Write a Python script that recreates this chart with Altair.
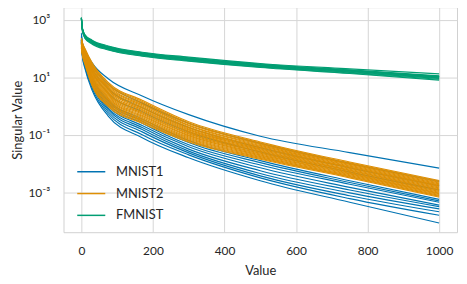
import altair as alt
import pandas as pd

# x positions where the curves were read
x_anchor = [0, 3, 10, 30, 75, 170, 300, 500, 750, 1000]

# log10(singular value), one list per curve
mnist1 = [
    [2.53, 2.20, 1.95, 1.50, 0.95, 0.35, -0.30, -1.05, -1.62, -2.16],
    [2.45, 2.15, 1.90, 1.40, 0.75, 0.10, -0.60, -1.30, -2.00, -2.62],
    [2.40, 2.10, 1.85, 1.30, 0.60, -0.05, -0.75, -1.45, -2.15, -2.78],
    [2.35, 2.05, 1.80, 1.20, 0.45, -0.20, -0.90, -1.60, -2.30, -2.92],
    [2.30, 1.95, 1.65, 1.00, 0.20, -0.45, -1.20, -1.90, -2.60, -3.25],
    [2.32, 1.90, 1.60, 0.95, 0.15, -0.52, -1.27, -1.97, -2.66, -3.30],
    [2.30, 1.88, 1.55, 0.90, 0.08, -0.60, -1.35, -2.05, -2.72, -3.35],
    [2.28, 1.85, 1.50, 0.85, 0.00, -0.68, -1.42, -2.15, -2.83, -3.45],
    [2.25, 1.82, 1.47, 0.80, -0.07, -0.75, -1.50, -2.25, -2.92, -3.50],
    [2.25, 1.80, 1.44, 0.75, -0.13, -0.82, -1.57, -2.35, -3.02, -3.58],
    [2.22, 1.77, 1.40, 0.70, -0.20, -0.90, -1.63, -2.43, -3.12, -3.68],
    [2.20, 1.74, 1.35, 0.62, -0.27, -1.00, -1.70, -2.50, -3.22, -3.80],
    [2.20, 1.70, 1.30, 0.55, -0.35, -1.10, -1.80, -2.60, -3.35, -4.07],
]
mnist2 = [
    [2.36, 2.20, 2.00, 1.50, 0.82, 0.20, -0.55, -1.25, -1.95, -2.59],
    [2.34, 2.18, 1.97, 1.46, 0.78, 0.16, -0.59, -1.28, -1.98, -2.62],
    [2.32, 2.16, 1.95, 1.42, 0.74, 0.12, -0.62, -1.31, -2.01, -2.65],
    [2.31, 2.13, 1.92, 1.38, 0.69, 0.08, -0.66, -1.34, -2.03, -2.68],
    [2.29, 2.11, 1.89, 1.34, 0.65, 0.04, -0.69, -1.37, -2.06, -2.71],
    [2.27, 2.09, 1.86, 1.30, 0.61, 0.00, -0.73, -1.40, -2.09, -2.74],
    [2.25, 2.07, 1.84, 1.26, 0.57, -0.04, -0.76, -1.43, -2.12, -2.76],
    [2.23, 2.04, 1.81, 1.22, 0.53, -0.08, -0.80, -1.46, -2.14, -2.79],
    [2.22, 2.02, 1.78, 1.18, 0.48, -0.12, -0.83, -1.49, -2.17, -2.82],
    [2.20, 2.00, 1.75, 1.14, 0.44, -0.16, -0.87, -1.52, -2.20, -2.85],
    [2.18, 1.98, 1.73, 1.10, 0.40, -0.20, -0.90, -1.55, -2.23, -2.88],
    [2.16, 1.95, 1.70, 1.06, 0.36, -0.24, -0.94, -1.58, -2.25, -2.91],
    [2.14, 1.93, 1.67, 1.02, 0.32, -0.28, -0.97, -1.61, -2.28, -2.94],
    [2.13, 1.91, 1.64, 0.98, 0.27, -0.32, -1.01, -1.64, -2.31, -2.97],
    [2.11, 1.89, 1.62, 0.94, 0.23, -0.36, -1.04, -1.67, -2.34, -3.00],
    [2.09, 1.86, 1.59, 0.90, 0.19, -0.40, -1.08, -1.70, -2.36, -3.03],
    [2.07, 1.84, 1.56, 0.86, 0.15, -0.44, -1.11, -1.73, -2.39, -3.05],
    [2.05, 1.82, 1.53, 0.82, 0.11, -0.48, -1.15, -1.76, -2.42, -3.08],
    [2.04, 1.80, 1.51, 0.78, 0.06, -0.52, -1.18, -1.79, -2.45, -3.11],
    [2.02, 1.77, 1.48, 0.74, 0.02, -0.56, -1.22, -1.82, -2.47, -3.14],
    [2.00, 1.75, 1.45, 0.70, -0.02, -0.60, -1.25, -1.85, -2.50, -3.17],
]
fmnist = [
    [3.08, 2.70, 2.48, 2.29, 2.09, 1.87, 1.70, 1.48, 1.29, 1.12],
    [3.07, 2.69, 2.47, 2.27, 2.07, 1.85, 1.68, 1.46, 1.26, 1.05],
    [3.07, 2.68, 2.45, 2.25, 2.05, 1.83, 1.66, 1.44, 1.24, 1.03],
    [3.06, 2.67, 2.44, 2.24, 2.04, 1.82, 1.65, 1.43, 1.23, 1.02],
    [3.06, 2.66, 2.43, 2.23, 2.03, 1.81, 1.64, 1.42, 1.22, 1.01],
    [3.05, 2.65, 2.42, 2.22, 2.02, 1.80, 1.63, 1.41, 1.21, 1.00],
    [3.05, 2.64, 2.40, 2.20, 2.00, 1.78, 1.61, 1.39, 1.19, 0.98],
    [3.04, 2.63, 2.39, 2.19, 1.99, 1.77, 1.60, 1.38, 1.17, 0.96],
    [3.04, 2.62, 2.37, 2.17, 1.97, 1.75, 1.58, 1.36, 1.15, 0.93],
    [3.03, 2.61, 2.35, 2.15, 1.95, 1.73, 1.56, 1.34, 1.13, 0.90],
]

datasets = ["MNIST1", "MNIST2", "FMNIST"]
colors = ["#0173B2", "#DE8F05", "#029E73"]
x_ticks = [0, 200, 400, 600, 800, 1000]
y_ticks = [1e3, 1e1, 1e-1, 1e-3]
y_tick_labels = ["10³", "10¹", "10⁻¹", "10⁻³"]

FONT = "Lato"
TEXT = "#262626"


def frame(name, curves):
    rows = []
    for i, c in enumerate(curves):
        for x, lv in zip(x_anchor, c):
            rows.append({"x": x, "v": 10 ** lv, "dataset": name, "line": f"{name}_{i}"})
    return pd.DataFrame(rows)


label_expr = " : ".join(
    f"datum.value > {t * 0.5} ? '{l}'" for t, l in zip(y_ticks[:-1], y_tick_labels[:-1])
) + f" : '{y_tick_labels[-1]}'"

color = alt.Color(
    "dataset:N",
    scale=alt.Scale(domain=datasets, range=colors),
    legend=alt.Legend(
        title=None,
        orient="none",
        legendX=13,
        legendY=151,
        symbolType="stroke",
        symbolSize=800,
        symbolStrokeWidth=1.5,
        labelFontSize=13,
        labelFont=FONT,
        labelColor=TEXT,
        labelOffset=10,
        rowPadding=-7,
        padding=0,
    ),
)

x_enc = alt.X(
    "x:Q",
    scale=alt.Scale(domain=[-50, 1050], nice=False, zero=False),
    axis=alt.Axis(values=x_ticks, format="d", title="Value", labelPadding=14, titlePadding=8),
)
y_enc = alt.Y(
    "v:Q",
    scale=alt.Scale(type="log", domain=[10 ** -4.39, 10 ** 3.437], nice=False),
    axis=alt.Axis(values=y_ticks, labelExpr=label_expr, title="Singular Value",
                  labelPadding=14, titlePadding=3),
)

layers = []
for name, curves in zip(datasets, [mnist1, mnist2, fmnist]):
    layers.append(
        alt.Chart(frame(name, curves))
        .mark_line(strokeWidth=1.15, interpolate="monotone", clip=True)
        .encode(x=x_enc, y=y_enc, color=color, detail="line:N")
    )

chart = (
    alt.layer(*layers)
    .properties(
        width=397,
        height=227,
        autosize=alt.AutoSizeParams(type="none"),
        padding={"left": 56, "top": -2, "right": 2, "bottom": 44},
    )
    .configure_view(stroke="#d0d0d0", strokeWidth=1)
    .configure_axis(
        grid=True,
        gridColor="#d6d6d6",
        gridWidth=1,
        domain=False,
        ticks=False,
        labelFont=FONT,
        labelFontSize=12,
        labelColor=TEXT,
        titleFont=FONT,
        titleFontSize=13,
        titleFontWeight="normal",
        titleColor=TEXT,
    )
)

chart.save("out.html", embed_options={"renderer": "svg", "actions": False})
